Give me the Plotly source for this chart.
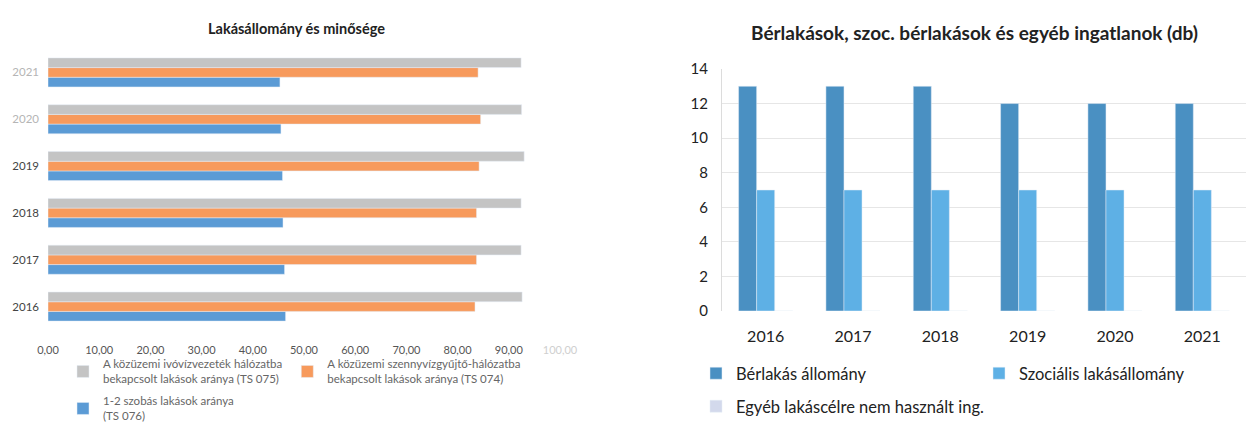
import plotly.graph_objects as go

# ---------------- Data ----------------
years = ["2016", "2017", "2018", "2019", "2020", "2021"]

# Left chart: Lakásállomány és minősége (%)
ivoviz = [92.6, 92.4, 92.4, 93.0, 92.5, 92.4]        # TS 075
szennyviz = [83.4, 83.7, 83.7, 84.2, 84.5, 84.0]     # TS 074
szobas_1_2 = [46.4, 46.2, 45.9, 45.8, 45.5, 45.3]    # TS 076

left_x_ticks = [0, 10, 20, 30, 40, 50, 60, 70, 80, 90, 100]
left_x_ticktext = ["0,00", "10,00", "20,00", "30,00", "40,00", "50,00",
                   "60,00", "70,00", "80,00", "90,00", "100,00"]

# Right chart: Bérlakások, szoc. bérlakások és egyéb ingatlanok (db)
berlakas = [13, 13, 13, 12, 12, 12]
szocialis = [7, 7, 7, 7, 7, 7]
egyeb = [0, 0, 0, 0, 0, 0]

# The page body has an 8px margin, so the figure is sized to fill the rest
OFF = 8
W, H = 1254 - OFF, 423 - OFF
FONT = "Lato, 'Open Sans', sans-serif"

def px(x):
    return (x - OFF) / W

def py(y):
    return 1 - (y - OFF) / H

fig = go.Figure()

# ---- Left chart traces (first trace drawn lowest in each group) ----
fig.add_trace(go.Bar(
    y=years, x=szobas_1_2, orientation="h", name="1-2 szobás lakások aránya<br>(TS 076)",
    marker_color="#5b9bd5", xaxis="x", yaxis="y", legend="legend2"))
fig.add_trace(go.Bar(
    y=years, x=szennyviz, orientation="h",
    name="A közüzemi szennyvízgyűjtő-hálózatba<br>bekapcsolt lakások aránya (TS 074)",
    marker_color="#f79a5c", xaxis="x", yaxis="y", legend="legend", legendrank=2))
fig.add_trace(go.Bar(
    y=years, x=ivoviz, orientation="h",
    name="A közüzemi ivóvízvezeték hálózatba<br>bekapcsolt lakások aránya (TS 075)",
    marker_color="#c4c4c4", xaxis="x", yaxis="y", legend="legend", legendrank=1))

# ---- Right chart traces ----
fig.add_trace(go.Bar(
    x=years, y=berlakas, name="Bérlakás állomány", marker_color="#4a90c2",
    xaxis="x2", yaxis="y2", legend="legend3"))
fig.add_trace(go.Bar(
    x=years, y=szocialis, name="Szociális lakásállomány", marker_color="#5eb0e5",
    xaxis="x2", yaxis="y2", legend="legend3"))
fig.add_trace(go.Bar(
    x=years, y=egyeb, name="Egyéb lakáscélre nem használt ing.", marker_color="#d3d9ec",
    xaxis="x2", yaxis="y2", legend="legend4"))

year_colors = {"2016": "#444", "2017": "#444", "2018": "#444", "2019": "#444",
               "2020": "#b5b5b5", "2021": "#b5b5b5"}
left_y_ticktext = [f'<span style="color:{year_colors[y]}">{y}</span>' for y in years]
left_x_ticktext_styled = [t if t != "100,00" else f'<span style="color:#cfcfcf">{t}</span>'
                          for t in left_x_ticktext]

fig.update_layout(
    width=W, height=H,
    margin=dict(l=0, r=0, t=0, b=0, autoexpand=False),
    paper_bgcolor="white", plot_bgcolor="white",
    font=dict(family=FONT, color="#333"),
    barmode="group", bargap=0.38, bargroupgap=0,
    xaxis=dict(domain=[px(48), px(560)], range=[0, 100], anchor="y", automargin=False,
               tickvals=left_x_ticks, ticktext=left_x_ticktext_styled,
               showgrid=False, zeroline=False, showline=False,
               tickfont=dict(size=11, color="#555"), ticklabelstandoff=12),
    yaxis=dict(domain=[py(330), py(49)], anchor="x", type="category", automargin=False,
               categoryorder="array", categoryarray=years,
               tickvals=years, ticktext=left_y_ticktext,
               showgrid=False, zeroline=False, showline=False,
               tickfont=dict(size=11.5), ticklabelstandoff=8),
    xaxis2=dict(domain=[px(722), px(1246)], anchor="y2", type="category", automargin=False,
                showgrid=False, zeroline=False, showline=False,
                tickfont=dict(size=16, color="#222"), ticklabelstandoff=14),
    yaxis2=dict(domain=[py(311), py(69)], anchor="x2", range=[0, 14], dtick=2,
                automargin=False,
                showgrid=True, gridcolor="#e6e6e6", zeroline=False,
                showline=True, linecolor="#dcdcdc",
                tickfont=dict(size=15, color="#222"), ticklabelstandoff=10),
    legend=dict(x=px(63), y=py(350), xanchor="left", yanchor="top",
                orientation="h", font=dict(size=11.5, color="#666"),
                bgcolor="rgba(0,0,0,0)", itemwidth=30, traceorder="normal"),
    legend2=dict(x=px(63), y=py(387), xanchor="left", yanchor="top",
                 orientation="h", font=dict(size=11.5, color="#666"),
                 bgcolor="rgba(0,0,0,0)", itemwidth=30, tracegroupgap=0),
    legend3=dict(x=px(696), y=py(356), xanchor="left", yanchor="top",
                 orientation="h", font=dict(size=16.5, color="#222"),
                 bgcolor="rgba(0,0,0,0)", itemwidth=30, entrywidth=238),
    legend4=dict(x=px(696), y=py(389), xanchor="left", yanchor="top",
                 orientation="h", font=dict(size=16.5, color="#222"),
                 bgcolor="rgba(0,0,0,0)", itemwidth=30),
    annotations=[
        dict(text="<b>Lakásállomány és minősége</b>", x=px(296), y=py(28),
             xref="paper", yref="paper", xanchor="center", yanchor="middle",
             showarrow=False, font=dict(size=14.5, color="#222", family=FONT)),
        dict(text="<b>Bérlakások, szoc. bérlakások és egyéb ingatlanok (db)</b>",
             x=px(974), y=py(33), xref="paper", yref="paper",
             xanchor="center", yanchor="middle",
             showarrow=False, font=dict(size=19, color="#222", family=FONT)),
    ],
)

fig.write_html("out.html")
